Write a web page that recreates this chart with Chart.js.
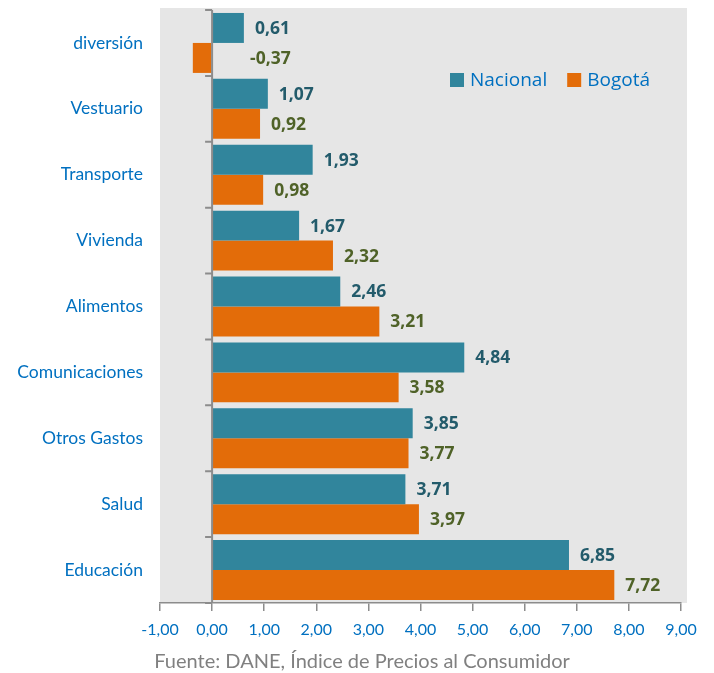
<!DOCTYPE html>
<html lang="es">
<head>
    <meta charset="UTF-8">
    <title>Variación IPC por grupos de gasto</title>
    <script src="https://cdn.jsdelivr.net/npm/chart.js"></script>
    <style>
        body {
            margin: 0;
            padding: 0;
            background-color: #fff;
        }
        .chart-box {
            width: 714px;
            height: 673px;
        }
    </style>
</head>
<body>
    <div class="chart-box">
        <canvas id="ipcChart"></canvas>
    </div>

    <script>
        // datos
        const categorias = ['diversión', 'Vestuario', 'Transporte', 'Vivienda', 'Alimentos',
            'Comunicaciones', 'Otros Gastos', 'Salud', 'Educación'];
        const nacional = [0.61, 1.07, 1.93, 1.67, 2.46, 4.84, 3.85, 3.71, 6.85];
        const bogota = [-0.37, 0.92, 0.98, 2.32, 3.21, 3.58, 3.77, 3.97, 7.72];
        const ejeMin = -1;
        const ejeMax = 9;
        const fuente = 'Fuente: DANE, Índice de Precios al Consumidor';

        const coma = v => v.toFixed(2).replace('.', ',');

        // fondo gris, linea del cero y marcas del eje de categorias
        const fondoPlugin = {
            id: 'fondo',
            beforeDraw(chart) {
                const { ctx, chartArea } = chart;
                ctx.save();
                ctx.fillStyle = '#e6e6e6';
                ctx.fillRect(chartArea.left, chartArea.top - 2, chartArea.right - chartArea.left + 6, chartArea.bottom - chartArea.top + 2);
                ctx.restore();
            },
            afterDatasetsDraw(chart) {
                const { ctx, chartArea, scales } = chart;
                const x0 = scales.x.getPixelForValue(0);
                ctx.save();
                ctx.strokeStyle = '#8c8c8c';
                ctx.lineWidth = 2;
                ctx.beginPath();
                ctx.moveTo(x0, chartArea.top);
                ctx.lineTo(x0, chartArea.bottom);
                for (let i = 0; i <= categorias.length; i++) {
                    const y = scales.y.getPixelForValue(i - 0.5);
                    ctx.moveTo(x0 - 7, y);
                    ctx.lineTo(x0, y);
                }
                ctx.stroke();

                // etiquetas de valores
                ctx.font = 'bold 17.5px "Open Sans"';
                ctx.textAlign = 'left';
                ctx.textBaseline = 'middle';
                chart.data.datasets.forEach((ds, di) => {
                    const meta = chart.getDatasetMeta(di);
                    ctx.fillStyle = ds.labelColor;
                    meta.data.forEach((bar, i) => {
                        const v = ds.data[i];
                        let x = scales.x.getPixelForValue(Math.max(v, 0)) + 11;
                        if (v < 0) x = x0 + 38;
                        ctx.fillText(coma(v), x, bar.y + 1);
                    });
                });

                // leyenda dentro del area
                ctx.font = '19px "Open Sans"';
                let lx = 450;
                const ly = 80;
                chart.data.datasets.forEach(ds => {
                    ctx.fillStyle = ds.backgroundColor;
                    ctx.fillRect(lx, ly - 7, 14, 14);
                    ctx.fillStyle = '#0070c0';
                    ctx.fillText(ds.label, lx + 20, ly + 1);
                    lx += 20 + ctx.measureText(ds.label).width + 20;
                });

                // fuente al pie
                ctx.font = '20px Lato';
                ctx.fillStyle = '#808080';
                ctx.textAlign = 'center';
                ctx.fillText(fuente, 362, 662);
                ctx.restore();
            }
        };

        const ctx = document.getElementById('ipcChart').getContext('2d');
        const ipcChart = new Chart(ctx, {
            type: 'bar',
            data: {
                labels: categorias,
                datasets: [
                    {
                        label: 'Nacional',
                        data: nacional,
                        backgroundColor: '#31859c',
                        labelColor: '#235b6b',
                        barPercentage: 1,
                        categoryPercentage: 0.91
                    },
                    {
                        label: 'Bogotá',
                        data: bogota,
                        backgroundColor: '#e36c09',
                        labelColor: '#4f6228',
                        barPercentage: 1,
                        categoryPercentage: 0.91
                    }
                ]
            },
            options: {
                indexAxis: 'y',
                responsive: false,
                animation: false,
                maintainAspectRatio: false,
                layout: {
                    padding: { top: 10, right: 33, left: 0, bottom: 28 }
                },
                plugins: {
                    legend: { display: false },
                    tooltip: { enabled: false },
                    title: { display: false }
                },
                scales: {
                    x: {
                        min: ejeMin,
                        max: ejeMax,
                        border: { display: true, color: '#8c8c8c', width: 1.5 },
                        grid: {
                            drawOnChartArea: false,
                            drawTicks: true,
                            tickLength: 8,
                            color: '#8c8c8c',
                            lineWidth: 1.5
                        },
                        ticks: {
                            stepSize: 1,
                            padding: 9,
                            color: '#0070c0',
                            font: { family: 'Lato', size: 16 },
                            callback: v => coma(v)
                        },
                        afterFit: s => { s.height = 42; }
                    },
                    y: {
                        border: { display: false },
                        grid: { display: false, drawTicks: false },
                        ticks: {
                            padding: 17,
                            color: '#0070c0',
                            font: { family: 'Lato', size: 17.5 }
                        },
                        afterFit: s => {
                            s.width = 160;
                            s.paddingTop = 0;
                            s.paddingBottom = 0;
                        }
                    }
                }
            },
            plugins: [fondoPlugin]
        });
        ipcChart.resize(714, 673);
    </script>
</body>
</html>
